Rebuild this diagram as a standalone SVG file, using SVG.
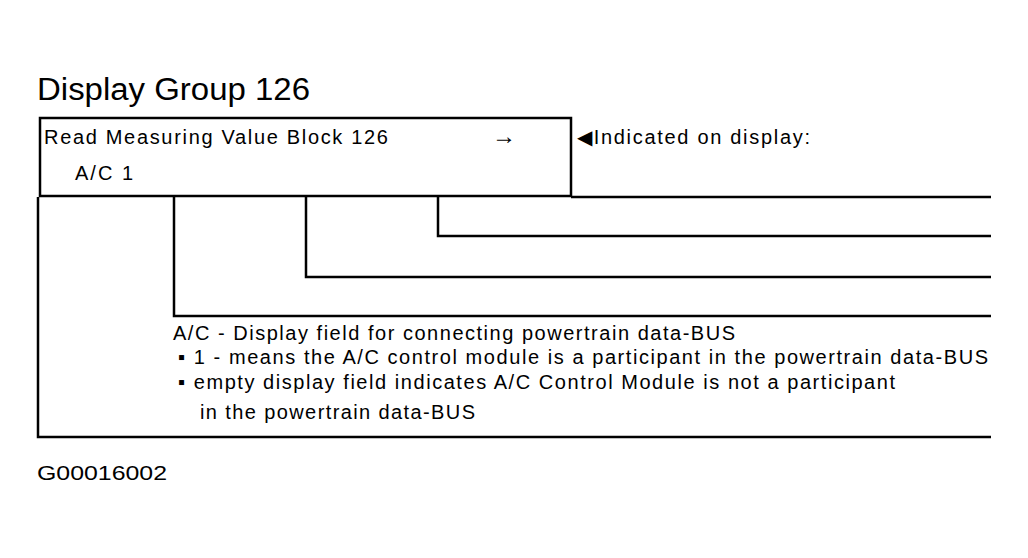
<svg xmlns="http://www.w3.org/2000/svg" width="1028" height="558" viewBox="0 0 1028 558">
<style>
text{font-family:"Liberation Sans",Arial,sans-serif;fill:#000}
.t{font-size:20px}
.ln{stroke:#000;stroke-width:2.5;fill:none}
</style>
<rect width="1028" height="558" fill="#fff"/>
<text x="37" y="100" font-size="31" textLength="273" lengthAdjust="spacingAndGlyphs">Display Group 126</text>
<g id="block">
<rect x="40" y="118" width="531" height="78" class="ln" stroke-width="3"/>
<text class="t" x="44" y="144" textLength="344" lengthAdjust="spacing">Read Measuring Value Block 126</text>
<text x="492" y="144" font-size="24">→</text>
<text class="t" x="75" y="180" textLength="58" lengthAdjust="spacing">A/C 1</text>
</g>
<g id="indicated">
<text class="t" x="577" y="144" textLength="233" lengthAdjust="spacing">◀Indicated on display:</text>
</g>
<g id="connectors">
<path class="ln" d="M571 197H991"/>
<path class="ln" d="M438 197V236H991"/>
<path class="ln" d="M306 197V277H991"/>
<path class="ln" d="M174 197V316H991"/>
<path class="ln" d="M38 197V437H991" stroke-width="3"/>
</g>
<g id="description">
<text class="t" x="173" y="340" textLength="562" lengthAdjust="spacing">A/C - Display field for connecting powertrain data-BUS</text>
<text class="t" x="178" y="364" textLength="810" lengthAdjust="spacing">▪ 1 - means the A/C control module is a participant in the powertrain data-BUS</text>
<text class="t" x="178" y="389" textLength="717" lengthAdjust="spacing">▪ empty display field indicates A/C Control Module is not a participant</text>
<text class="t" x="200" y="419" textLength="275" lengthAdjust="spacing">in the powertrain data-BUS</text>
</g>
<text x="37" y="480" font-size="21" textLength="130" lengthAdjust="spacingAndGlyphs">G00016002</text>
</svg>
